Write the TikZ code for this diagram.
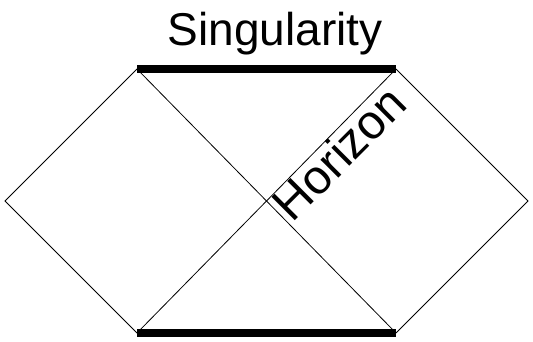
\documentclass[tikz,border=0pt]{standalone}
\usepackage{fontspec}
\setmainfont{Liberation Sans}
\usetikzlibrary{positioning,calc}

\begin{document}
\begin{tikzpicture}[
    x=1pt, y=-1pt,
    edge/.style={draw, line width=0.8pt},
    sing/.style={draw, line width=7.5pt},
    label/.style={font=\fontsize{46}{50}\selectfont, inner sep=0pt}
]
\useasboundingbox (0,0) rectangle (533,342);

\coordinate (tl) at (137,69);
\coordinate (tr) at (396,69);
\coordinate (bl) at (137,333);
\coordinate (br) at (396,333);
\coordinate (lft) at (5,201);
\coordinate (rgt) at (528,201);

\draw[edge] (tl) -- (lft) -- (bl);
\draw[edge] (tr) -- (rgt) -- (br);
\draw[edge] (tl) -- (br);
\draw[edge] (tr) -- (bl);

\draw[sing] (tl) -- (tr);
\draw[sing] (bl) -- (br);

\node[label] (singularity) at (275,34) {Singularity};
\node[label, rotate=45, font=\fontsize{48}{52}\selectfont] (horizon) at (339,153) {Horizon};

\end{tikzpicture}
\end{document}
